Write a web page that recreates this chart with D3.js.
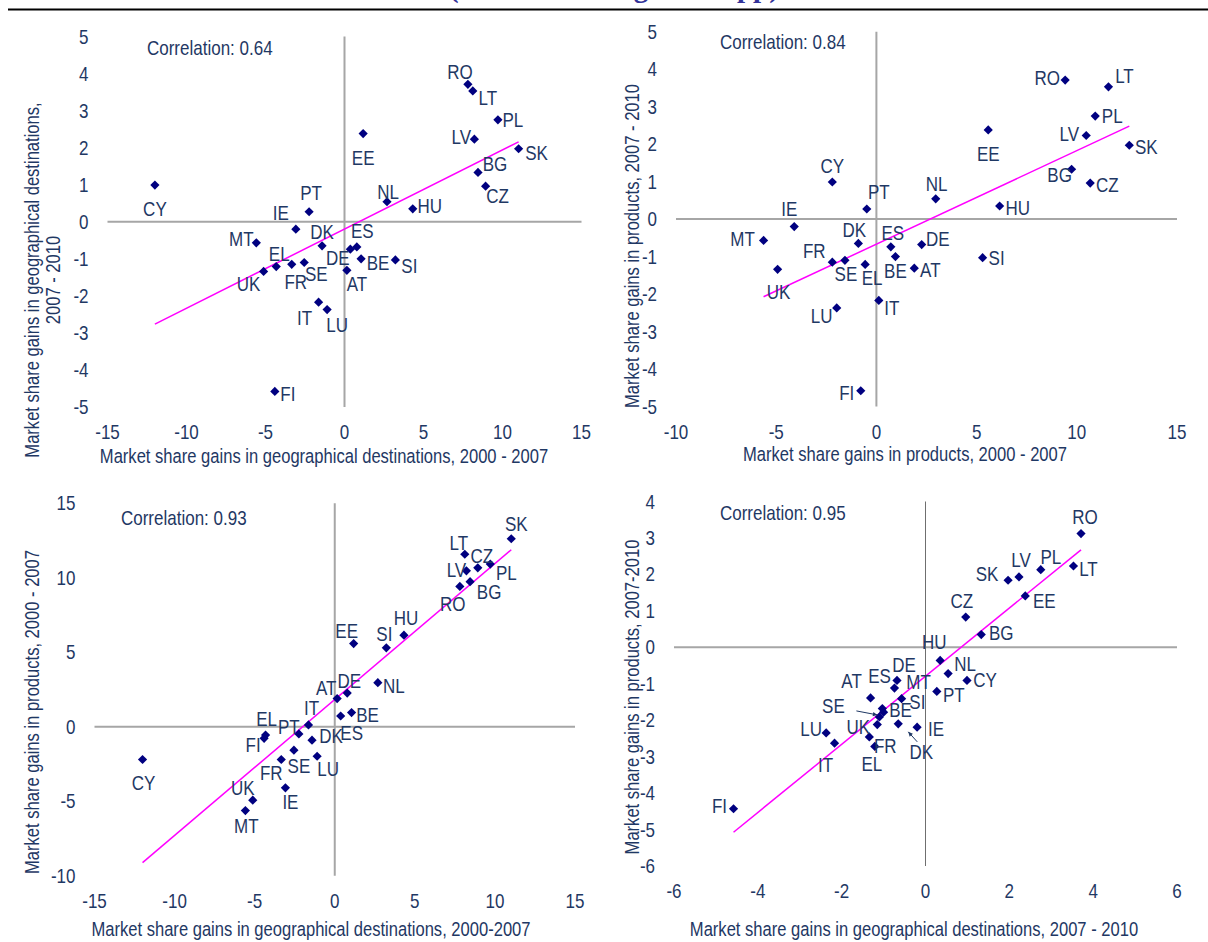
<!DOCTYPE html>
<html>
<head>
<meta charset="utf-8">
<script src="https://cdn.jsdelivr.net/npm/d3@7/dist/d3.min.js"></script>
<style>
  body { margin: 0; background: #fff; }
  #chart svg { display: block; }
  #chart text { font-family: "Liberation Sans", Arial, sans-serif; fill: #1f3864; }
</style>
</head>
<body>
<div id="chart"></div>
<script>
// EU member states, same order in every array below
const countries = ["AT","BE","BG","CY","CZ","DE","DK","EE","EL","ES","FI","FR","HU","IE","IT","LT","LU","LV","MT","NL","PL","PT","RO","SE","SI","SK","UK"];

// market share gains, percentage points
const geo0007  = [0.15, 1.05, 8.45, -12.0, 8.93, 0.78, -1.42, 1.18, -4.32, 0.37, -4.41, -3.34, 4.32, -3.08, -1.64, 8.12, -1.10, 8.22, -5.58, 2.69, 9.71, -2.24, 7.81, -2.55, 3.22, 11.02, -5.12];
const geo0710  = [-1.31, -1.00, 1.33, 0.99, 0.96, -0.68, -0.65, 2.38, -1.21, -0.74, -4.58, -1.15, 0.35, -0.20, -2.17, 3.53, -2.37, 2.23, -0.57, 0.54, 2.75, 0.27, 3.71, -1.10, -1.03, 1.97, -1.34];
const prod0007 = [1.89, 0.95, 9.74, -2.20, 10.67, 2.26, -0.90, 5.58, -0.56, 0.72, -0.78, -2.20, 6.15, -4.10, 0.12, 11.58, -1.98, 10.47, -5.63, 2.96, 10.92, -0.48, 9.42, -1.57, 5.30, 12.62, -4.93];
const prod0710 = [-1.39, -1.78, 0.35, -0.91, 0.83, -0.91, -2.10, 1.41, -2.72, -1.12, -4.43, -2.12, -0.36, -2.19, -2.63, 2.23, -2.35, 1.93, -1.41, -0.72, 2.13, -1.21, 3.12, -1.91, -1.68, 1.84, -2.46];

const correlations = ["Correlation: 0.64", "Correlation: 0.84", "Correlation: 0.93", "Correlation: 0.95"];

const ticks15 = [-15, -10, -5, 0, 5, 10, 15];
const ticks10to15 = [-10, -5, 0, 5, 10, 15];
const ticks5 = [-5, -4, -3, -2, -1, 0, 1, 2, 3, 4, 5];
const ticksY3 = [-10, -5, 0, 5, 10, 15];
const ticksX4 = [-6, -4, -2, 0, 2, 4, 6];
const ticksY4 = [-6, -5, -4, -3, -2, -1, 0, 1, 2, 3, 4];

// label offsets (px, label centre relative to marker), as placed by hand in the original
const labels1 = {RO:[-8,-12], LT:[15,7], PL:[15,0], LV:[-13,-2], SK:[18,4], BG:[17,-8], CZ:[12,10], EE:[0,24], NL:[1,-10], HU:[17,-3], CY:[0,24], PT:[2,-19], IE:[-15,-16], MT:[-15,-4], DK:[0,-14], DE:[-19,11], ES:[12,-18], BE:[17,4], SI:[14,6], AT:[10,14], EL:[3,-13], UK:[-15,13], FR:[4,18], SE:[12,11], IT:[-14,16], LU:[10,15], FI:[13,3]};
const labels2 = {RO:[-18,-2], LT:[16,-11], PL:[17,0], LV:[-17,-2], SK:[17,2], EE:[0,24], BG:[-12,6], CZ:[17,2], CY:[0,-16], NL:[1,-15], PT:[12,-17], HU:[18,2], IE:[-5,-18], MT:[-21,-1], DK:[-4,-13], ES:[2,-14], DE:[16,-6], BE:[0,14], SI:[14,0], AT:[16,2], FR:[-18,-11], SE:[1,14], EL:[7,14], UK:[1,23], IT:[13,8], LU:[-15,8], FI:[-14,2]};
const labels3 = {SK:[5,-15], LT:[-6,-11], CZ:[4,-12], PL:[16,9], LV:[-10,-1], BG:[19,10], RO:[-7,18], HU:[2,-17], SI:[-2,-14], EE:[-7,-13], NL:[16,3], DE:[2,-12], AT:[-11,-11], BE:[16,2], ES:[11,17], IT:[3,-17], PT:[-10,-7], EL:[1,-16], FI:[-11,7], DK:[19,-4], SE:[5,16], LU:[11,13], FR:[-10,13], CY:[1,23], IE:[5,14], UK:[-10,-12], MT:[1,15]};
const labels4 = {RO:[4,-17], PL:[10,-13], LT:[15,3], LV:[2,-17], SK:[-21,-6], EE:[19,5], CZ:[-4,-16], BG:[20,-2], HU:[-6,-18], NL:[17,-10], CY:[18,0], PT:[17,4], DE:[7,-15], ES:[-15,-12], MT:[17,-17], AT:[-19,-17], SI:[35,-7], BE:[17,-2], SE:[-46,-11], FR:[8,21], DK:[23,28], IE:[19,2], UK:[-11,-10], EL:[-3,18], LU:[-15,-4], IT:[-9,22], FI:[-14,-3]};
// leader arrows in the last panel: [country, from, to] relative to the marker
const arrows4 = [["SE", [-23, -6], [-2, -2]], ["DK", [19, 18], [10, 8]]];

const panels = [
  {xs: geo0007, ys: geo0710, xDomain: [-15, 15], yDomain: [-5, 5], xTicks: ticks15, yTicks: ticks5,
   xRange: [107.5, 581.5], yRange: [407, 36.5], corr: correlations[0], corrAt: [147, 48],
   xTitle: "Market share gains in geographical destinations, 2000 - 2007", xTitleAt: [324, 457],
   yTitle: ["Market share gains in geographical destinations,", "2007 - 2010"], yTitleAt: [[33, 280], [54, 280]],
   labels: labels1, vLine: {c: "#a6a6a6", w: 2}},
  {xs: prod0007, ys: geo0710, xDomain: [-10, 15], yDomain: [-5, 5], xTicks: ticks10to15, yTicks: ticks5,
   xRange: [676, 1177], yRange: [406.5, 31.7], corr: correlations[1], corrAt: [720, 42],
   xTitle: "Market share gains in products, 2000 - 2007", xTitleAt: [905, 455],
   yTitle: ["Market share gains in products, 2007 - 2010"], yTitleAt: [[633, 246]],
   labels: labels2, vLine: {c: "#a6a6a6", w: 2}},
  {xs: geo0007, ys: prod0007, xDomain: [-15, 15], yDomain: [-10, 15], xTicks: ticks15, yTicks: ticksY3,
   xRange: [94.5, 575], yRange: [875.7, 503.3], corr: correlations[2], corrAt: [121, 518],
   xTitle: "Market share gains in geographical destinations, 2000-2007", xTitleAt: [311, 930],
   yTitle: ["Market share gains in products, 2000 - 2007"], yTitleAt: [[33, 712]],
   labels: labels3, vLine: {c: "#a6a6a6", w: 2}},
  {xs: geo0710, ys: prod0710, xDomain: [-6, 6], yDomain: [-6, 4], xTicks: ticksX4, yTicks: ticksY4,
   xRange: [674, 1177], yRange: [866, 501.5], corr: correlations[3], corrAt: [720, 513],
   xTitle: "Market share gains in geographical destinations, 2007 - 2010", xTitleAt: [914, 930],
   yTitle: ["Market share gains in products, 2007-2010"], yTitleAt: [[633, 697]],
   labels: labels4, arrows: arrows4, vLine: {c: "#6f6f6f", w: 1}}
];

// the original uses a narrow sans; squeeze Liberation Sans horizontally
const squeeze = 0.85;
const fontSize = "20px", titleSize = "19.5px";

function fit(xs, ys) {
  const mx = d3.mean(xs), my = d3.mean(ys);
  const b = d3.sum(xs, (v, i) => (v - mx) * (ys[i] - my)) / d3.sum(xs, v => (v - mx) * (v - mx));
  return {a: my - b * mx, b: b};
}

const diamond = r => `M0,${-r}L${r},0L0,${r}L${-r},0Z`;
const at = (x, y, rot) => `translate(${x},${y})${rot ? " rotate(" + rot + ")" : ""} scale(${squeeze},1)`;

const svg = d3.select("#chart").append("svg")
  .attr("width", 1208)
  .attr("height", 942);

// caption clipped by the page top, only its descenders show; rule under it
svg.append("text")
  .attr("x", 614).attr("y", -3)
  .attr("text-anchor", "middle")
  .style("font-family", "'Liberation Serif', 'Times New Roman', serif")
  .style("font-weight", "bold")
  .style("font-size", "29px")
  .style("fill", "#333399")
  .text("(Market share gains in pp)");
svg.append("line")
  .attr("x1", 8).attr("x2", 1208).attr("y1", 9.5).attr("y2", 9.5)
  .attr("stroke", "#000").attr("stroke-width", 2);

function drawPanel(p) {
  const g = svg.append("g");
  const x = d3.scaleLinear().domain(p.xDomain).range(p.xRange);
  const y = d3.scaleLinear().domain(p.yDomain).range(p.yRange);

  // zero lines act as the axes
  g.append("line")
    .attr("x1", x(p.xDomain[0])).attr("x2", x(p.xDomain[1]))
    .attr("y1", y(0)).attr("y2", y(0))
    .attr("stroke", "#a6a6a6").attr("stroke-width", 2);
  g.append("line")
    .attr("x1", x(0)).attr("x2", x(0))
    .attr("y1", y(p.yDomain[0])).attr("y2", y(p.yDomain[1]))
    .attr("stroke", p.vLine.c).attr("stroke-width", p.vLine.w);

  // tick labels
  g.selectAll(".ytick").data(p.yTicks).join("text")
    .attr("transform", d => at(p.xRange[0] - 19, y(d)))
    .attr("text-anchor", "end")
    .attr("dominant-baseline", "central")
    .style("font-size", fontSize)
    .text(d => d);
  g.selectAll(".xtick").data(p.xTicks).join("text")
    .attr("transform", d => at(x(d), p.yRange[0] + 25))
    .attr("text-anchor", "middle")
    .attr("dominant-baseline", "central")
    .style("font-size", fontSize)
    .text(d => d);

  // axis titles
  g.append("text")
    .attr("transform", at(p.xTitleAt[0], p.xTitleAt[1]))
    .attr("text-anchor", "middle")
    .attr("dominant-baseline", "central")
    .style("font-size", titleSize)
    .text(p.xTitle);
  p.yTitle.forEach((t, i) => {
    g.append("text")
      .attr("transform", at(p.yTitleAt[i][0], p.yTitleAt[i][1], -90))
      .attr("text-anchor", "middle")
      .attr("dominant-baseline", "central")
      .style("font-size", titleSize)
      .text(t);
  });

  g.append("text")
    .attr("transform", at(p.corrAt[0], p.corrAt[1]))
    .attr("dominant-baseline", "central")
    .style("font-size", fontSize)
    .text(p.corr);

  // trend line over the range of the data
  const f = fit(p.xs, p.ys);
  const x0 = d3.min(p.xs), x1 = d3.max(p.xs);
  g.append("line")
    .attr("x1", x(x0)).attr("y1", y(f.a + f.b * x0))
    .attr("x2", x(x1)).attr("y2", y(f.a + f.b * x1))
    .attr("stroke", "#ff00ff").attr("stroke-width", 1.5);

  const pts = countries.map((c, i) => ({c: c, x: p.xs[i], y: p.ys[i]}));

  g.selectAll(".dot").data(pts).join("path")
    .attr("d", diamond(4.6))
    .attr("transform", d => `translate(${x(d.x)},${y(d.y)})`)
    .attr("fill", "#000080");

  g.selectAll(".lbl").data(pts).join("text")
    .attr("transform", d => at(x(d.x) + p.labels[d.c][0], y(d.y) + p.labels[d.c][1]))
    .attr("text-anchor", "middle")
    .attr("dominant-baseline", "central")
    .style("font-size", fontSize)
    .text(d => d.c);

  if (p.arrows) {
    p.arrows.forEach(a => {
      const i = countries.indexOf(a[0]);
      const px = x(p.xs[i]), py = y(p.ys[i]);
      const x1 = px + a[1][0], y1 = py + a[1][1], x2 = px + a[2][0], y2 = py + a[2][1];
      const ang = Math.atan2(y2 - y1, x2 - x1);
      g.append("line")
        .attr("x1", x1).attr("y1", y1).attr("x2", x2).attr("y2", y2)
        .attr("stroke", "#1f3864").attr("stroke-width", 1);
      const h = 5;
      g.append("path")
        .attr("d", `M${x2},${y2}L${x2 - h * Math.cos(ang - 0.45)},${y2 - h * Math.sin(ang - 0.45)}L${x2 - h * Math.cos(ang + 0.45)},${y2 - h * Math.sin(ang + 0.45)}Z`)
        .attr("fill", "#1f3864");
    });
  }
}

panels.forEach(drawPanel);
</script>
</body>
</html>
